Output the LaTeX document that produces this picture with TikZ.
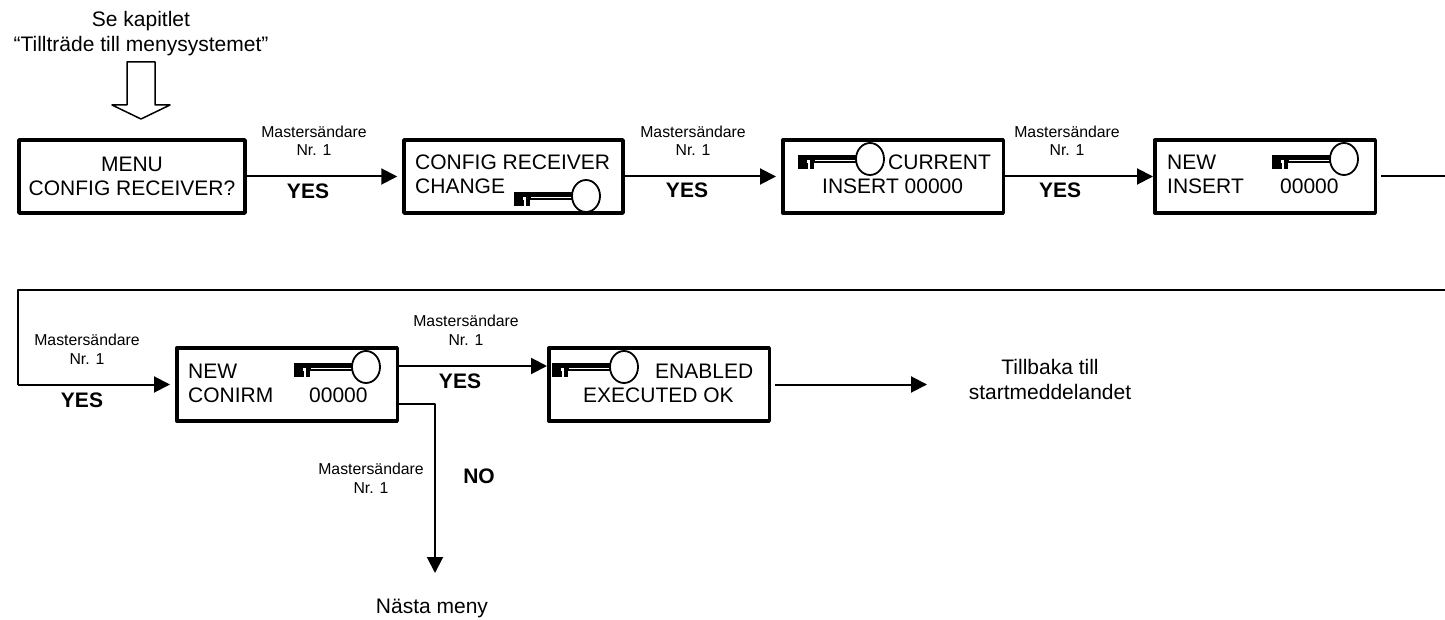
\documentclass[tikz,border=0pt]{standalone}
\usepackage{fontspec}
\setmainfont{Liberation Sans}
\usetikzlibrary{arrows.meta}
\tikzset{
	lcd/.style={draw,line width=3.5pt,minimum height=73pt,inner sep=0pt,align=center,font=\fontsize{21}{24}\selectfont},
	txt/.style={anchor=base west,inner sep=0pt,font=\fontsize{21}{24}\selectfont},
	note/.style={inner sep=0pt,align=center,font=\fontsize{21}{25}\selectfont},
	sender/.style={inner sep=0pt,align=center,font=\fontsize{15.8}{18.5}\selectfont},
	answer/.style={anchor=base,inner sep=0pt,font=\fontsize{21}{24}\selectfont\bfseries},
	flow/.style={line width=2pt,-{Triangle[length=16pt,width=16pt]}},
	wire/.style={line width=2pt},
	keyicon/.pic={
		\fill (-72,-4) rectangle (-14,4);
		\fill[white] (-55,0.8) rectangle (-14,2.2);
		\fill (-72,-4) rectangle (-56,10);
		\fill[white] (-63,1) rectangle (-60,4);
		\fill[white] (-62.5,4) rectangle (-60.5,10.5);
		\draw[line width=1.8pt,fill=white] (0,0) ellipse [x radius=14,y radius=16];
	}
}
\begin{document}
\begin{tikzpicture}[x=1pt,y=-1pt,line join=round]
	\useasboundingbox (0,0) rectangle (1445,620);
	% first row
	\node[note] (intro) at (141,34) {Se kapitlet\\``Tillträde till menysystemet''};
	\draw[line width=1.5pt,fill=white] (127,62)--(155,62)--(155,105)--(170,105)--(141,119)--(112,105)--(127,105)--cycle;
	\node[lcd,minimum width=226pt] (menu) at (132,176.5) {MENU\\CONFIG RECEIVER?};
	\node[lcd,minimum width=219pt] (change) at (513.5,176.5) {};
	\node[lcd,minimum width=220.5pt] (current) at (893,176.5) {};
	\node[lcd,minimum width=220.5pt] (newins) at (1265,176.5) {};
	\coordinate (right1) at (1445,176.5);
	% second row
	\coordinate (right2) at (1445,290);
	\coordinate (left2) at (17.5,290);
	\coordinate (left3) at (17.5,384.5);
	\coordinate (back0) at (927,384.5);
	\coordinate (next0) at (435,573);
	\node[lcd,minimum width=220.5pt] (confirm) at (287,384.5) {};
	\node[lcd,minimum width=220.5pt] (enabled) at (659,384.5) {};
	\node[note] (back) at (1050,379.5) {Tillbaka till\\startmeddelandet};
	\node[note,anchor=base] (nextmenu) at (432,613) {Nästa meny};
	% box texts
	\node[txt] (t1) at (415,170) {CONFIG RECEIVER};
	\node[txt] (t2) at (415,194) {CHANGE};
	\node[txt] (t3) at (888,170) {CURRENT};
	\node[txt] (t4) at (822,194) {INSERT 00000};
	\node[txt] (t5) at (1167,170) {NEW};
	\node[txt] (t6) at (1167,194) {INSERT};
	\node[txt] (t7) at (1280,194) {00000};
	\node[txt] (t8) at (188,378) {NEW};
	\node[txt] (t9) at (188,402) {CONIRM};
	\node[txt] (t10) at (309,402) {00000};
	\node[txt] (t11) at (655,378) {ENABLED};
	\node[txt] (t12) at (583,402) {EXECUTED OK};
	% keys
	\pic at (586,196) {keyicon};
	\pic at (870,159) {keyicon};
	\pic at (1344,159) {keyicon};
	\pic at (366,367) {keyicon};
	\pic at (624,367) {keyicon};
	% connectors
	\draw[flow,shorten >=5pt] (menu) -- (change);
	\draw[flow,shorten >=5pt] (change) -- (current);
	\draw[flow] (current) -- (newins);
	\draw[wire,shorten <=4pt] (newins) -- (right1);
	\draw[wire] (right2) -- (left2) -- (left3);
	\draw[flow,shorten >=5pt] (left3) -- (confirm);
	\draw[flow] ([yshift=18.5pt]confirm.east) -- ([yshift=18.5pt]enabled.west);
	\draw[flow,shorten <=4pt] (enabled) -- (back0);
	\draw[flow] ([yshift=-19.5pt]confirm.east) -| (next0);
	% labels
	\node[sender] (m1) at (314,141) {Mastersändare\\Nr. 1};
	\node[sender] (m2) at (693,141) {Mastersändare\\Nr. 1};
	\node[sender] (m3) at (1067,141) {Mastersändare\\Nr. 1};
	\node[sender] (m4) at (87,349.5) {Mastersändare\\Nr. 1};
	\node[sender] (m5) at (466,330.5) {Mastersändare\\Nr. 1};
	\node[sender] (m6) at (371,478.5) {Mastersändare\\Nr. 1};
	\node[answer] (y1) at (308,199) {YES};
	\node[answer] (y2) at (687,198) {YES};
	\node[answer] (y3) at (1060,198) {YES};
	\node[answer] (y4) at (82,407) {YES};
	\node[answer] (y5) at (460,388) {YES};
	\node[answer] (n1) at (479,483) {NO};
\end{tikzpicture}
\end{document}
